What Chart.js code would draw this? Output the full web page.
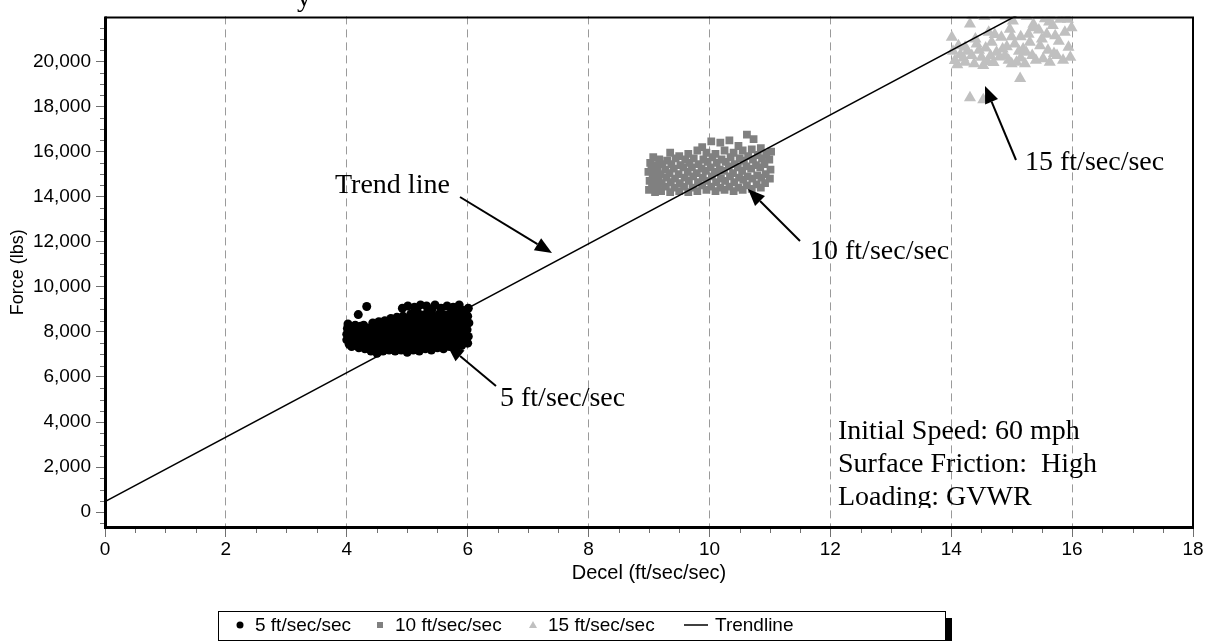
<!DOCTYPE html>
<html>
<head>
<meta charset="utf-8">
<script src="https://cdn.jsdelivr.net/npm/chart.js@4.4.1/dist/chart.umd.min.js"></script>
<style>
  html, body { margin: 0; padding: 0; background: #fff; }
  #wrap { width: 1209px; height: 641px; }
</style>
</head>
<body>
<div id="wrap"><canvas id="mycanvas" width="1209" height="641"></canvas></div>
<script>
// axis ticks
var xTicks = [0, 2, 4, 6, 8, 10, 12, 14, 16, 18];
var yTicks = [0, 2000, 4000, 6000, 8000, 10000, 12000, 14000, 16000, 18000, 20000];

// braking runs at 5 ft/sec/sec  [decel, force]
var decel5 = [
  [4.00,7650],[4.00,7900],[4.01,8150],[4.02,8350],[4.04,7450],[4.05,7750],[4.03,8050],[4.06,8250],
  [4.08,7350],[4.09,7600],[4.07,7850],[4.10,8100],[4.12,7500],[4.13,7700],[4.11,7950],[4.14,8300],
  [4.16,7400],[4.17,7650],[4.15,7900],[4.18,8150],[4.19,8770],[4.20,7300],[4.21,7550],[4.22,7800],
  [4.20,8050],[4.23,8250],[4.25,7450],[4.26,7700],[4.27,7950],[4.24,8200],[4.30,7250],[4.29,7500],
  [4.31,7750],[4.32,8000],[4.28,8300],[4.33,9130],[4.35,7350],[4.36,7600],[4.34,7850],[4.37,8100],
  [4.40,7150],[4.41,7450],[4.39,7700],[4.42,7950],[4.40,8200],[4.43,8400],[4.45,7300],[4.46,7550],
  [4.44,7800],[4.47,8050],[4.48,8300],[4.50,7050],[4.51,7400],[4.49,7650],[4.52,7900],[4.50,8150],
  [4.53,8450],[4.55,7250],[4.56,7500],[4.54,7750],[4.57,8000],[4.58,8250],[4.60,7150],[4.61,7400],
  [4.59,7650],[4.62,7900],[4.60,8200],[4.63,8500],[4.65,7300],[4.66,7550],[4.64,7800],[4.67,8050],
  [4.68,8350],[4.70,7200],[4.71,7450],[4.69,7700],[4.72,7950],[4.70,8250],[4.73,8600],[4.75,7350],
  [4.76,7600],[4.74,7850],[4.77,8100],[4.78,8400],[4.80,7150],[4.81,7450],[4.79,7750],[4.82,8000],
  [4.80,8300],[4.83,8650],[4.85,7300],[4.86,7550],[4.84,7850],[4.87,8150],[4.88,8450],[4.90,7200],
  [4.91,7500],[4.89,7700],[4.92,8000],[4.90,8300],[4.93,8700],[4.92,9050],[4.95,7350],[4.96,7650],
  [4.94,7900],[4.97,8200],[4.98,8500],[5.00,7100],[5.01,7400],[4.99,7700],[5.02,7950],[5.00,8250],
  [5.03,8600],[5.01,9150],[5.05,7300],[5.06,7550],[5.04,7850],[5.07,8100],[5.08,8400],[5.06,8800],
  [5.10,7200],[5.11,7450],[5.09,7750],[5.12,8050],[5.10,8350],[5.13,8650],[5.12,9100],[5.15,7350],
  [5.16,7600],[5.14,7900],[5.17,8200],[5.18,8500],[5.16,8950],[5.20,7150],[5.21,7500],[5.19,7800],
  [5.22,8100],[5.20,8400],[5.23,8750],[5.22,9200],[5.25,7400],[5.26,7650],[5.24,7950],[5.27,8250],
  [5.28,8550],[5.30,7250],[5.31,7550],[5.29,7850],[5.32,8150],[5.30,8450],[5.33,8850],[5.32,9150],
  [5.35,7450],[5.36,7700],[5.34,8000],[5.37,8300],[5.38,8650],[5.40,7200],[5.41,7500],[5.39,7800],
  [5.42,8100],[5.40,8400],[5.43,8700],[5.41,9000],[5.45,7350],[5.46,7650],[5.44,7950],[5.47,8250],
  [5.48,8550],[5.46,9200],[5.50,7300],[5.51,7600],[5.49,7900],[5.52,8200],[5.50,8500],[5.53,8800],
  [5.55,7450],[5.56,7750],[5.54,8050],[5.57,8350],[5.58,8650],[5.56,9050],[5.60,7250],[5.61,7550],
  [5.59,7850],[5.62,8150],[5.60,8450],[5.63,8750],[5.65,7400],[5.66,7700],[5.64,8000],[5.67,8300],
  [5.68,8600],[5.66,9150],[5.70,7350],[5.71,7650],[5.69,7950],[5.72,8250],[5.70,8550],[5.73,8900],
  [5.75,7500],[5.76,7800],[5.74,8100],[5.77,8400],[5.78,8700],[5.76,9100],[5.80,7300],[5.81,7600],
  [5.79,7900],[5.82,8200],[5.80,8500],[5.83,8850],[5.85,7450],[5.86,7750],[5.84,8050],[5.87,8350],
  [5.88,8650],[5.86,9200],[5.90,7400],[5.91,7700],[5.89,8000],[5.92,8300],[5.90,8600],[5.93,8950],
  [5.95,7550],[5.96,7850],[5.94,8150],[5.97,8450],[5.98,8750],[6.00,7500],[6.01,7800],[5.99,8100],
  [6.02,8400],[6.00,8700],[6.01,9050]
];

// braking runs at 10 ft/sec/sec
var decel10 = [
  [9.00,14300],[9.01,14700],[8.99,15100],[9.02,15500],[9.05,14500],[9.06,14900],[9.04,15300],[9.07,15750],
  [9.10,14200],[9.11,14650],[9.09,15050],[9.12,15400],[9.15,14400],[9.16,14850],[9.14,15250],[9.17,15650],
  [9.20,14250],[9.21,14600],[9.19,15000],[9.22,15450],[9.28,14450],[9.29,14850],[9.27,15200],[9.30,15600],
  [9.35,14200],[9.36,14650],[9.34,15050],[9.37,15450],[9.35,15950],[9.42,14400],[9.43,14800],[9.41,15250],
  [9.44,15700],[9.50,14250],[9.51,14600],[9.49,15000],[9.52,15400],[9.50,15800],[9.58,14450],[9.59,14850],
  [9.57,15300],[9.60,15650],[9.65,14200],[9.66,14700],[9.64,15100],[9.67,15500],[9.65,15900],[9.72,14400],
  [9.73,14900],[9.71,15300],[9.74,15700],[9.80,14250],[9.81,14650],[9.79,15050],[9.82,15450],[9.80,16050],
  [9.88,14500],[9.89,14850],[9.87,15250],[9.90,15650],[9.88,16200],[9.95,14300],[9.96,14700],[9.94,15150],
  [9.97,15550],[9.95,15950],[10.03,14450],[10.04,14900],[10.02,15300],[10.05,15750],[10.03,16450],[10.10,14250],
  [10.11,14650],[10.09,15100],[10.12,15500],[10.10,15900],[10.18,14400],[10.19,14800],[10.17,15200],[10.20,15650],
  [10.18,16400],[10.25,14300],[10.26,14700],[10.24,15150],[10.27,15550],[10.25,16050],[10.33,14450],[10.34,14900],
  [10.32,15350],[10.35,15750],[10.33,16500],[10.40,14250],[10.41,14650],[10.39,15050],[10.42,15450],[10.40,15950],
  [10.48,14400],[10.49,14850],[10.47,15300],[10.50,15700],[10.48,16250],[10.55,14300],[10.56,14750],[10.54,15150],
  [10.57,15600],[10.55,16050],[10.62,14500],[10.63,14900],[10.61,15350],[10.64,15800],[10.62,16750],[10.70,14350],
  [10.71,14800],[10.69,15250],[10.72,15650],[10.70,16100],[10.73,16550],[10.78,14550],[10.79,14950],[10.77,15400],
  [10.80,15850],[10.85,14400],[10.86,14850],[10.84,15300],[10.87,15700],[10.85,16150],[10.92,14600],[10.93,15000],
  [10.91,15450],[10.94,15900],[11.00,14800],[11.01,15200],[10.99,15650],[11.02,16000]
];

// braking runs at 15 ft/sec/sec
var decel15 = [
  [14.01,21070],[14.06,20040],[14.03,20450],[14.10,19850],[14.15,20300],[14.23,20630],[14.23,19970],[14.31,21660],
  [14.34,20260],[14.42,20770],[14.38,19900],[14.50,20190],[14.53,19820],[14.46,20500],[14.60,20000],[14.67,20850],
  [14.62,21300],[14.75,20410],[14.70,19950],[14.83,21070],[14.80,20200],[14.89,20260],[14.92,20650],[14.97,21430],
  [15.00,19900],[15.05,20770],[15.08,19970],[15.02,21800],[15.14,19240],[15.12,20450],[15.19,20550],[15.15,21100],
  [15.24,20410],[15.28,21210],[15.30,20850],[15.34,20260],[15.36,21650],[15.40,20050],[15.45,21400],[15.47,20700],
  [15.52,20120],[15.55,21900],[15.58,21210],[15.63,19970],[15.60,20500],[15.68,21600],[15.72,21140],[15.75,20260],
  [15.78,20900],[15.80,21870],[15.85,20050],[15.88,21300],[15.93,21870],[15.94,20630],[15.97,20190],[15.99,21500],
  [14.31,18390],[14.53,18300],[14.35,22050],[14.55,22000],[14.75,22080],[14.90,22020],[15.10,22060],[15.25,22000],
  [15.45,22040],[15.65,22010],[15.90,22050],[14.12,20700],[14.27,20450],[14.57,20600],[14.72,21200],[14.85,20550],
  [15.00,21100],[15.22,19900],[15.35,21500],[15.50,21000],[15.62,21750],[15.70,20350],[14.40,21000],[14.20,20150],
  [14.65,20250],[14.95,20050],[15.15,20150]
];

// fitted trend, end points
var trendLine = [[0, 470], [18, 26210]];

function toXY(arr) {
  return arr.map(function(p) { return {x: p[0], y: p[1]}; });
}

var sans = '"Liberation Sans", Arial, sans-serif';
var serif = '"Liberation Serif", "Times New Roman", serif';

function arrow(ctx, x1, y1, x2, y2) {
  var ang = Math.atan2(y2 - y1, x2 - x1);
  var len = 17, half = 7;
  var bx = x2 - len * Math.cos(ang), by = y2 - len * Math.sin(ang);
  ctx.beginPath();
  ctx.moveTo(x1, y1);
  ctx.lineTo(bx, by);
  ctx.lineWidth = 2;
  ctx.strokeStyle = '#000';
  ctx.stroke();
  ctx.beginPath();
  ctx.moveTo(x2, y2);
  ctx.lineTo(bx + half * Math.sin(ang), by - half * Math.cos(ang));
  ctx.lineTo(bx - half * Math.sin(ang), by + half * Math.cos(ang));
  ctx.closePath();
  ctx.fillStyle = '#000';
  ctx.fill();
}

var extras = {
  id: 'extras',
  afterDatasetsDraw: function(chart) {
    var ctx = chart.ctx, a = chart.chartArea;
    var xs = chart.scales.x, ys = chart.scales.y;
    ctx.save();
    // minor ticks
    ctx.strokeStyle = '#707070';
    ctx.lineWidth = 1;
    ctx.beginPath();
    for (var v = 0.5; v < 18; v += 0.5) {
      if (v % 2 === 0) continue;
      var px = Math.round(xs.getPixelForValue(v)) + 0.5;
      ctx.moveTo(px, a.bottom);
      ctx.lineTo(px, a.bottom + 5);
    }
    for (var w = -500; w < 22000; w += 500) {
      if (w % 2000 === 0) continue;
      var py = Math.round(ys.getPixelForValue(w)) + 0.5;
      ctx.moveTo(a.left - 5, py);
      ctx.lineTo(a.left, py);
    }
    ctx.stroke();
    // plot frame
    ctx.strokeStyle = '#000';
    ctx.lineWidth = 2;
    ctx.beginPath();
    ctx.moveTo(a.left, a.top + 1);
    ctx.lineTo(a.right, a.top + 1);
    ctx.lineTo(a.right, a.bottom);
    ctx.stroke();
    ctx.lineWidth = 3;
    ctx.beginPath();
    ctx.moveTo(a.left + 0.5, a.top);
    ctx.lineTo(a.left + 0.5, a.bottom - 0.5);
    ctx.lineTo(a.right + 1, a.bottom - 0.5);
    ctx.stroke();
    ctx.restore();
  },
  afterDraw: function(chart) {
    var ctx = chart.ctx;
    ctx.save();
    ctx.fillStyle = '#000';
    ctx.font = '28px ' + serif;
    ctx.textBaseline = 'alphabetic';
    ctx.textAlign = 'left';
    ctx.fillText('y', 297, 6);
    ctx.fillText('Trend line', 335, 193);
    arrow(ctx, 460, 197, 552, 253);
    ctx.fillText('10 ft/sec/sec', 810, 259);
    arrow(ctx, 800, 241, 748, 189);
    ctx.fillText('5 ft/sec/sec', 500, 406);
    arrow(ctx, 496, 386, 447, 345);
    ctx.fillText('15 ft/sec/sec', 1025, 170);
    arrow(ctx, 1016, 160, 985, 86);

    // run conditions, box cut off at the bottom
    ctx.save();
    ctx.beginPath();
    ctx.rect(830, 400, 300, 108);
    ctx.clip();
    ctx.fillText('Initial Speed: 60 mph', 838, 439);
    ctx.fillText('Surface Friction:  High', 838, 472);
    ctx.fillText('Loading: GVWR', 838, 505);
    ctx.restore();

    // legend
    var L = 218, T = 611, R = 945, B = 640;
    ctx.fillStyle = '#000';
    ctx.fillRect(L + 7, T + 7, R - L, B - T);
    ctx.fillStyle = '#fff';
    ctx.fillRect(L, T, R - L, B - T);
    ctx.strokeStyle = '#000';
    ctx.lineWidth = 1;
    ctx.strokeRect(L + 0.5, T + 0.5, R - L, B - T);
    var cy = 625;
    var ds = chart.data.datasets;
    var itemX = [240, 380, 533, 684];
    ctx.font = '19px ' + sans;
    ctx.textBaseline = 'middle';
    ds.forEach(function(d, i) {
      var x = itemX[i];
      ctx.fillStyle = d.backgroundColor;
      if (d.pointStyle === 'circle') {
        ctx.beginPath();
        ctx.arc(x, cy, 3.5, 0, Math.PI * 2);
        ctx.fill();
      } else if (d.pointStyle === 'rect') {
        ctx.fillRect(x - 3, cy - 3, 6, 6);
      } else if (d.pointStyle === 'triangle') {
        ctx.beginPath();
        ctx.moveTo(x, cy - 4);
        ctx.lineTo(x + 4, cy + 3);
        ctx.lineTo(x - 4, cy + 3);
        ctx.closePath();
        ctx.fill();
      } else {
        ctx.strokeStyle = d.borderColor;
        ctx.lineWidth = 1.5;
        ctx.beginPath();
        ctx.moveTo(x, cy);
        ctx.lineTo(x + 24, cy);
        ctx.stroke();
        x += 16;
      }
      ctx.fillStyle = '#000';
      ctx.fillText(d.label, x + 15, cy + 1);
    });
    ctx.restore();
  }
};

var ctx = document.getElementById('mycanvas').getContext('2d');

var chartdata = {
  datasets: [
    {
      label: '5 ft/sec/sec',
      data: toXY(decel5),
      pointStyle: 'circle',
      pointRadius: 4.5,
      backgroundColor: '#000000',
      borderColor: '#000000',
      borderWidth: 0,
      clip: 0,
      order: 1
    },
    {
      label: '10 ft/sec/sec',
      data: toXY(decel10),
      pointStyle: 'rect',
      pointRadius: 5.5,
      backgroundColor: '#808080',
      borderColor: '#808080',
      borderWidth: 0,
      clip: 0,
      order: 1
    },
    {
      label: '15 ft/sec/sec',
      data: toXY(decel15),
      pointStyle: 'triangle',
      pointRadius: 7,
      backgroundColor: '#c0c0c0',
      borderColor: '#c0c0c0',
      borderWidth: 0,
      clip: 0,
      order: 1
    },
    {
      label: 'Trendline',
      type: 'line',
      data: toXY(trendLine),
      pointRadius: 0,
      borderColor: '#000000',
      backgroundColor: '#000000',
      borderWidth: 1.5,
      fill: false,
      clip: 0,
      order: 0
    }
  ]
};

var chart = new Chart(ctx, {
  type: 'scatter',
  data: chartdata,
  plugins: [extras],
  options: {
    responsive: false,
    animation: false,
    layout: { padding: { top: 12, right: 16, bottom: 0, left: 0 } },
    plugins: {
      legend: { display: false },
      tooltip: { enabled: false }
    },
    scales: {
      x: {
        type: 'linear',
        position: 'bottom',
        min: 0,
        max: 18,
        afterBuildTicks: function(s) { s.ticks = xTicks.map(function(v) { return {value: v}; }); },
        afterFit: function(s) { s.height = 113; },
        grid: {
          color: function(c) {
            var v = c.tick ? c.tick.value : null;
            return (v === 0 || v === 18) ? 'rgba(0,0,0,0)' : '#9a9a9a';
          },
          lineWidth: 1,
          tickLength: 9,
          tickColor: '#707070'
        },
        border: { display: false, dash: [8, 5] },
        ticks: {
          color: '#000',
          font: { family: sans, size: 19 },
          padding: 1,
          maxRotation: 0,
          autoSkip: false
        },
        title: {
          display: true,
          text: 'Decel (ft/sec/sec)',
          color: '#000',
          font: { family: sans, size: 20 },
          padding: { top: 0, bottom: 56 }
        }
      },
      y: {
        type: 'linear',
        position: 'left',
        min: -700,
        max: 22000,
        afterBuildTicks: function(s) { s.ticks = yTicks.map(function(v) { return {value: v}; }); },
        afterFit: function(s) { s.width = 105; },
        grid: {
          drawOnChartArea: false,
          tickLength: 9,
          tickColor: '#707070'
        },
        border: { display: false },
        ticks: {
          color: '#000',
          font: { family: sans, size: 19 },
          padding: 5,
          callback: function(v) { return v.toLocaleString('en-US'); }
        },
        title: {
          display: true,
          text: 'Force (lbs)',
          color: '#000',
          font: { family: sans, size: 18 },
          padding: { top: 7, bottom: 0 }
        }
      }
    }
  }
});
</script>
</body>
</html>
